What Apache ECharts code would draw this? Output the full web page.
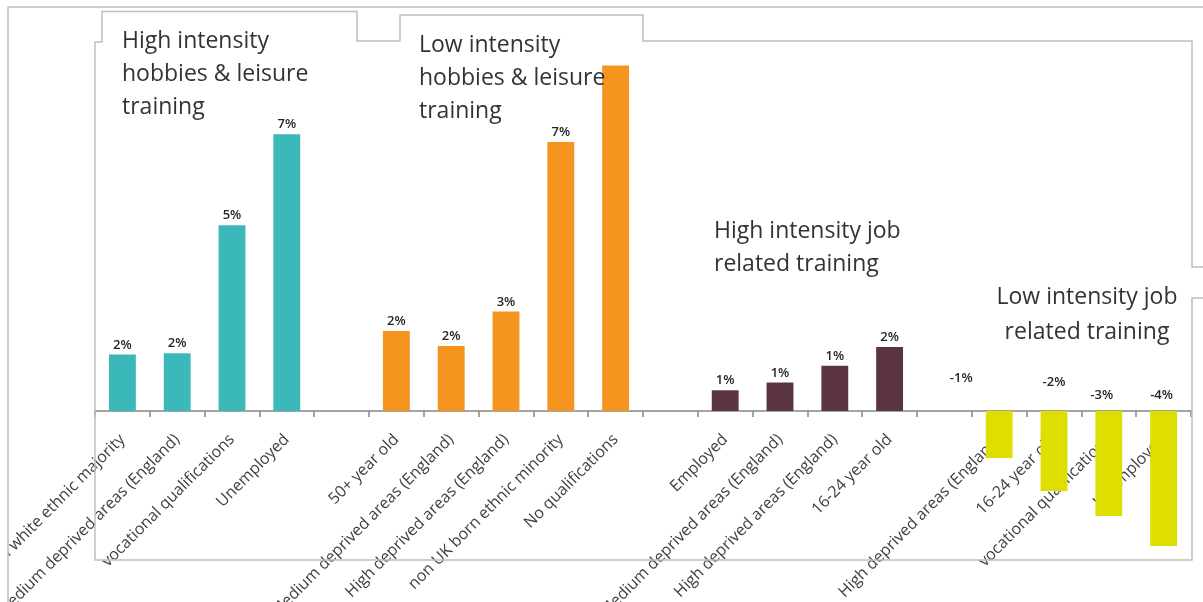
<!DOCTYPE html>
<html><head><meta charset="utf-8">
<script src="https://cdn.jsdelivr.net/npm/echarts@6/dist/echarts.min.js"></script>
<style>html,body{margin:0;padding:0;background:#fff;overflow:hidden;width:1203px;height:602px}
#c{position:absolute;left:-300px;top:0;width:1803px;height:900px}</style>
</head><body><div id="c"></div>
<script>
// ---- data ----
const hiHobbyCats = ['Non white ethnic majority', 'Medium deprived areas (England)', 'vocational qualifications', 'Unemployed'];
const hiHobbyVals = [1.53, 1.56, 5.02, 7.48];
const loHobbyCats = ['50+ year old', 'Medium deprived areas (England)', 'High deprived areas (England)', 'non UK born ethnic minority', 'No qualifications'];
const loHobbyVals = [2.16, 1.76, 2.69, 7.27, 9.34];
const hiJobCats = ['Employed', 'Medium deprived areas (England)', 'High deprived areas (England)', '16-24 year old'];
const hiJobVals = [0.56, 0.77, 1.22, 1.73];
const loJobCats = ['High deprived areas (England)', '16-24 year old', 'vocational qualifications', 'Unemployed'];
const loJobVals = [-1.27, -2.16, -2.84, -3.65];
const groupTitles = ['High intensity\nhobbies & leisure\ntraining', 'Low intensity\nhobbies & leisure\ntraining', 'High intensity job\nrelated training', 'Low intensity job\nrelated training'];

// ---- styling ----
const colors = ['#3BB8BA', '#F5941F', '#5A3442', '#DEDE00'];
const groups = [
  { cats: hiHobbyCats, vals: hiHobbyVals },
  { cats: loHobbyCats, vals: loHobbyVals },
  { cats: hiJobCats, vals: hiJobVals },
  { cats: loJobCats, vals: loJobVals }
];
// label tweaks per group/item (visual only)
const labelTweaks = {
  '1-4': { show: false },
  '3-0': { offset: [-38, -23] },
  '3-1': { offset: [0, -19] },
  '3-2': { offset: [-7, -6] },
  '3-3': { offset: [-2, -6] }
};

const categories = [];
const seriesData = groups.map(() => []);
groups.forEach((g, gi) => {
  if (gi > 0) { categories.push(''); seriesData.forEach(s => s.push('-')); }
  g.cats.forEach((c, i) => {
    categories.push(c);
    seriesData.forEach((s, si) => {
      if (si !== gi) { s.push('-'); return; }
      const tw = labelTweaks[gi + '-' + i];
      s.push(tw ? { value: g.vals[i], label: tw } : g.vals[i]);
    });
  });
});
// unique keys for the category axis; names shown through the formatter
const axisKeys = categories.map((c, i) => 'k' + i);

const OX = 300; // canvas is shifted left by this much so overflowing labels are clipped by the window
const lineColor = '#BFBFBF';
const txtFont = '23px "Open Sans"';
const chart = echarts.init(document.getElementById('c'));
chart.setOption({
  animation: false,
  backgroundColor: '#fff',
  // grid bottom sits on the zero line; negative bars are drawn below it (clip: false)
  grid: { left: 95 + OX, width: 1096, top: 41, height: 370 },
  xAxis: {
    type: 'category', data: axisKeys,
    axisLine: { lineStyle: { color: '#868686', width: 1.5 } },
    axisTick: { show: true, length: 6, lineStyle: { color: '#868686', width: 1.5 } },
    axisLabel: {
      show: true, interval: 0, rotate: 45, margin: 26, fontSize: 16, color: '#404040', fontFamily: 'Open Sans',
      hideOverlap: false,
      formatter: (v, idx) => categories[idx]
    }
  },
  yAxis: { type: 'value', min: 0, max: 10, show: false },
  series: seriesData.map((d, i) => ({
    type: 'bar', data: d, barWidth: '49%', barGap: '-100%', clip: false,
    itemStyle: { color: colors[i] },
    label: {
      show: true, position: 'top', distance: 3,
      fontSize: 13, fontWeight: 600, fontFamily: 'Open Sans', color: '#262626',
      formatter: p => Math.round(p.value) + '%'
    }
  })),
  graphic: [{
    type: 'group', x: OX, y: 0, children: [
      // area outside the chart frame (left of the outer border) is blank
      { type: 'rect', silent: true, z: 99, shape: { x: -OX, y: 0, width: OX + 8, height: 602 }, style: { fill: '#fff' } },
      { type: 'polyline', silent: true, z: 100, shape: { points: [[8, 602], [8, 7], [1203, 7]] }, style: { stroke: lineColor, lineWidth: 1.5, fill: null } },
      { type: 'polyline', silent: true, z: 100, shape: { points: [[1203, 267], [1192, 267], [1192, 41], [643, 41], [643, 15], [400, 15], [400, 41], [357, 41], [357, 11.5], [102, 11.5], [102, 42], [95, 42], [95, 560], [1192, 560], [1192, 298], [1203, 298]] }, style: { stroke: lineColor, lineWidth: 1.5, fill: null } },
      { type: 'text', z: 101, style: { text: groupTitles[0], x: 122, y: 25, font: txtFont, lineHeight: 33, fill: '#333', textVerticalAlign: 'top' } },
      { type: 'text', z: 101, style: { text: groupTitles[1], x: 419, y: 29, font: txtFont, lineHeight: 33, fill: '#333', textVerticalAlign: 'top' } },
      { type: 'text', z: 101, style: { text: groupTitles[2], x: 714, y: 215, font: txtFont, lineHeight: 33, fill: '#333', textVerticalAlign: 'top' } },
      { type: 'text', z: 101, style: { text: groupTitles[3], x: 1087, y: 280, font: txtFont, lineHeight: 35, fill: '#333', textAlign: 'center', textVerticalAlign: 'top' } }
    ]
  }]
});
</script>
</body></html>
